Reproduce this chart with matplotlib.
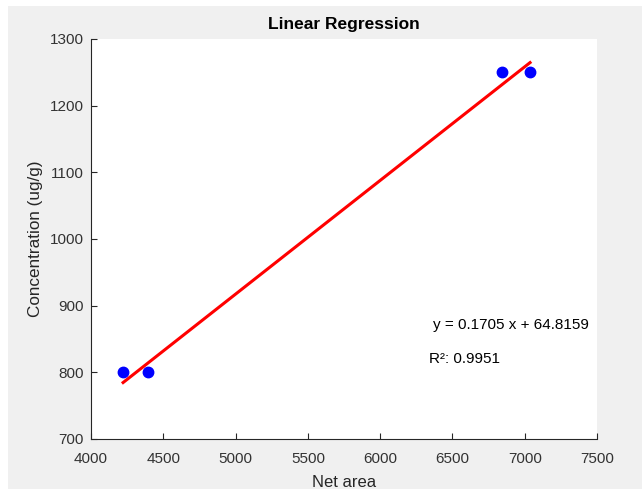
import numpy as np
import matplotlib
matplotlib.use("Agg")
import matplotlib.pyplot as plt
from matplotlib.patches import Rectangle

plt.rcParams['font.family'] = ['Liberation Sans', 'DejaVu Sans']

# data
net_area = [4222, 4395, 6843, 7037]
concentration = [800, 800, 1250, 1250]
slope = 0.1705
intercept = 64.8159
r2 = 0.9951

x_ticks = [4000, 4500, 5000, 5500, 6000, 6500, 7000, 7500]
y_ticks = [700, 800, 900, 1000, 1100, 1200, 1300]

fig = plt.figure(figsize=(6.42, 4.90), dpi=100, facecolor='white')
# grey matlab-ish figure panel
fig.patches.append(Rectangle((8 / 642, 0.002), 1.0, 1 - 6 / 490 - 0.002,
                             transform=fig.transFigure, facecolor='#f0f0f0',
                             edgecolor='none', zorder=-10))

ax = fig.add_axes([91 / 642, 1 - 439 / 490, (597 - 91) / 642, (439 - 39) / 490])
ax.set_facecolor('white')

xfit = np.array([min(net_area), max(net_area)])
ax.plot(xfit, slope * xfit + intercept, color='red', lw=2.2, zorder=2)
ax.plot(net_area, concentration, 'o', color='blue', ms=7.5, zorder=3)

ax.set_xlim(4000, 7500)
ax.set_ylim(700, 1300)
ax.set_xticks(x_ticks)
ax.set_yticks(y_ticks)

for s in ['top', 'right']:
    ax.spines[s].set_visible(False)
for s in ['left', 'bottom']:
    ax.spines[s].set_color('#262626')
    ax.spines[s].set_linewidth(0.8)
ax.tick_params(direction='in', length=4, width=0.8, color='#262626',
               labelsize=11, labelcolor='#333333')
ax.tick_params(axis='x', pad=9)
ax.tick_params(axis='y', pad=5)

ax.set_title('Linear Regression', fontsize=12.5, fontweight='bold', pad=7)
ax.set_xlabel('Net area', fontsize=12, color='#262626', labelpad=7)
ax.set_ylabel('Concentration (ug/g)', fontsize=12.3, color='#262626', labelpad=5)

ax.text(6366, 871, f'y = {slope:.4f} x + {intercept:.4f}', fontsize=11, va='center')
ax.text(6338, 820, f'R²: {r2:.4f}', fontsize=11, va='center')

fig.savefig('out.png', dpi=100, facecolor=fig.get_facecolor())
